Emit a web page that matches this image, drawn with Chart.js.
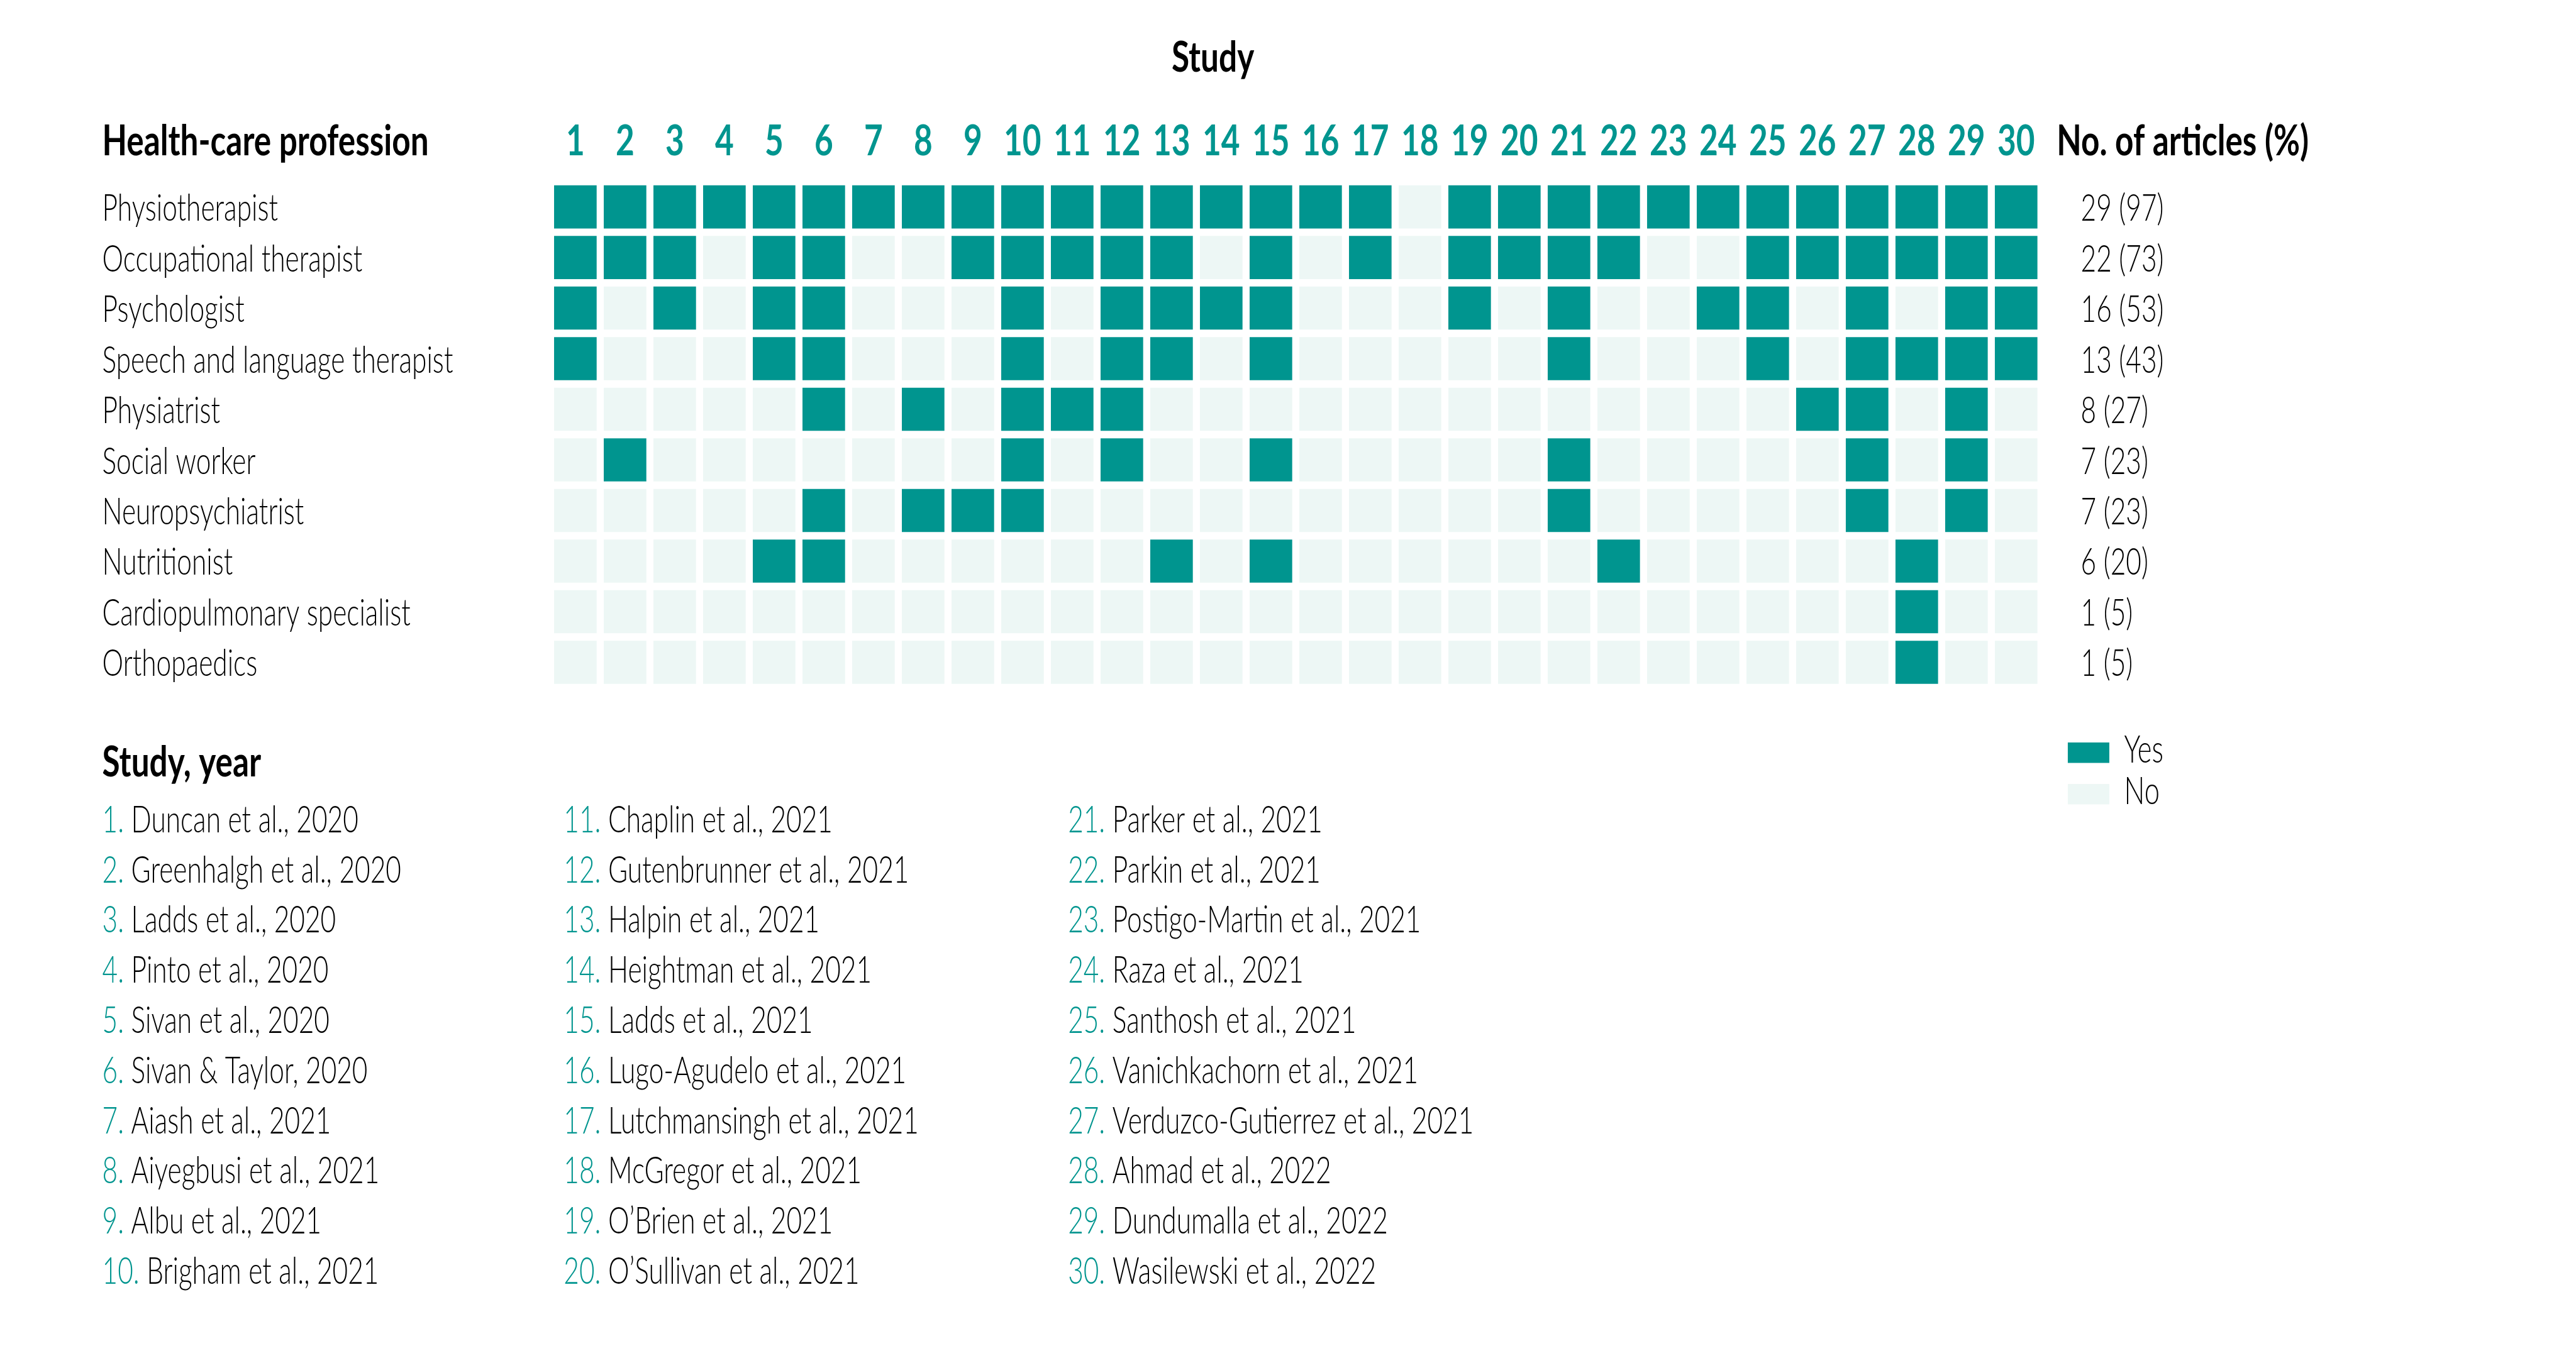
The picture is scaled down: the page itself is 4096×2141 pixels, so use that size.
<!DOCTYPE html>
<html>
<head>
<meta charset="utf-8">
<title>Health-care professions reported per study</title>
<script src="https://cdn.jsdelivr.net/npm/chart.js@4.4.1/dist/chart.umd.min.js"></script>
<style>
  html, body { margin: 0; padding: 0; background: #ffffff; }
  canvas { display: block; }
</style>
</head>
<body>
<canvas id="myChart" width="4096" height="2141"></canvas>
<script>
'use strict';

const studies = ['1', '2', '3', '4', '5', '6', '7', '8', '9', '10',
  '11', '12', '13', '14', '15', '16', '17', '18', '19', '20',
  '21', '22', '23', '24', '25', '26', '27', '28', '29', '30'];

const professions = ['Physiotherapist', 'Occupational therapist', 'Psychologist',
  'Speech and language therapist', 'Physiatrist', 'Social worker', 'Neuropsychiatrist',
  'Nutritionist', 'Cardiopulmonary specialist', 'Orthopaedics'];

const articleCounts = ['29 (97)', '22 (73)', '16 (53)', '13 (43)', '8 (27)',
  '7 (23)', '7 (23)', '6 (20)', '1 (5)', '1 (5)'];

// study numbers that include each profession
const physiotherapist = [1, 2, 3, 4, 5, 6, 7, 8, 9, 10, 11, 12, 13, 14, 15, 16, 17,
  19, 20, 21, 22, 23, 24, 25, 26, 27, 28, 29, 30];
const occupationalTherapist = [1, 2, 3, 5, 6, 9, 10, 11, 12, 13, 15, 17, 19, 20, 21, 22,
  25, 26, 27, 28, 29, 30];
const psychologist = [1, 3, 5, 6, 10, 12, 13, 14, 15, 19, 21, 24, 25, 27, 29, 30];
const speechTherapist = [1, 5, 6, 10, 12, 13, 15, 21, 25, 27, 28, 29, 30];
const physiatrist = [6, 8, 10, 11, 12, 26, 27, 29];
const socialWorker = [2, 10, 12, 15, 21, 27, 29];
const neuropsychiatrist = [6, 8, 9, 10, 21, 27, 29];
const nutritionist = [5, 6, 13, 15, 22, 28];
const cardiopulmonary = [28];
const orthopaedics = [28];

const yesByProfession = [physiotherapist, occupationalTherapist, psychologist, speechTherapist,
  physiatrist, socialWorker, neuropsychiatrist, nutritionist, cardiopulmonary, orthopaedics];

const studyNames = ['Duncan et al., 2020', 'Greenhalgh et al., 2020', 'Ladds et al., 2020',
  'Pinto et al., 2020', 'Sivan et al., 2020', 'Sivan & Taylor, 2020', 'Aiash et al., 2021',
  'Aiyegbusi et al., 2021', 'Albu et al., 2021', 'Brigham et al., 2021',
  'Chaplin et al., 2021', 'Gutenbrunner et al., 2021', 'Halpin et al., 2021',
  'Heightman et al., 2021', 'Ladds et al., 2021', 'Lugo-Agudelo et al., 2021',
  'Lutchmansingh et al., 2021', 'McGregor et al., 2021', 'O\u2019Brien et al., 2021',
  'O\u2019Sullivan et al., 2021', 'Parker et al., 2021', 'Parkin et al., 2021',
  'Postigo-Martin et al., 2021', 'Raza et al., 2021', 'Santhosh et al., 2021',
  'Vanichkachorn et al., 2021', 'Verduzco-Gutierrez et al., 2021', 'Ahmad et al., 2022',
  'Dundumalla et al., 2022', 'Wasilewski et al., 2022'];

const TEAL = '#00958f';
const PALE = '#edf7f5';
const S = 0.985;          // reference -> window scale
const CELL_PAD = 0.074;   // gap between rows, in row units

const REG = '300 59.5px Lato';
const BOLD = 'bold 66px Lato';

// one floating bar per cell, split into the two answer groups
const yesCells = [];
const noCells = [];
professions.forEach(function (p, row) {
    studies.forEach(function (s) {
        const cell = {x: s, y: [row + CELL_PAD, row + 1 - CELL_PAD]};
        if (yesByProfession[row].indexOf(Number(s)) >= 0) {
            yesCells.push(cell);
        } else {
            noCells.push(cell);
        }
    });
});

// the source uses a condensed face, so text is squeezed horizontally
function squeeze(c, font, sample, width) {
    c.font = font;
    return width / c.measureText(sample).width;
}

function put(c, str, px, py, font, color, sx, align) {
    c.save();
    c.font = font;
    c.fillStyle = color;
    c.textAlign = align || 'left';
    c.textBaseline = 'alphabetic';
    c.translate(px, py);
    c.scale(sx, 1);
    c.fillText(str, 0, 0);
    c.restore();
}

const textLayer = {
    id: 'textLayer',
    afterDraw: function (chart) {
        const c = chart.ctx;
        const xs = chart.scales.x;
        const ys = chart.scales.y;
        const sxR = squeeze(c, REG, 'Occupational therapist', 420 * S);
        const sxB = squeeze(c, BOLD, 'No. of articles (%)', 407 * S);

        put(c, 'Study', 1958 * S, 116 * S, BOLD, '#000', sxB, 'center');
        put(c, 'Health-care profession', 165 * S, 250.7 * S, BOLD, '#000', sxB);
        put(c, 'No. of articles (%)', 3320 * S, 250.7 * S, BOLD, '#000', sxB);

        studies.forEach(function (s, i) {
            put(c, s, xs.getPixelForValue(i), 250.7 * S, BOLD, TEAL, sxB, 'center');
        });

        professions.forEach(function (p, row) {
            const yc = ys.getPixelForValue(row + 0.5) + 22;
            put(c, p, 165 * S, yc, REG, '#000', sxR);
            put(c, articleCounts[row], 3359 * S, yc, REG, '#000', sxR);
        });

        // legend
        const sets = chart.data.datasets;
        [1199, 1266].forEach(function (top, i) {
            c.fillStyle = sets[i].backgroundColor;
            c.fillRect(3338 * S, top * S, 67 * S, 33 * S);
            put(c, sets[i].label, 3429 * S, (top + 32.5) * S, '300 61px Lato', '#000', sxR);
        });

        // study key, three columns of ten
        put(c, 'Study, year', 165 * S, 1254 * S, BOLD, '#000', sxB);
        const colX = [165, 910, 1724];
        studyNames.forEach(function (name, i) {
            const px = colX[Math.floor(i / 10)] * S;
            const py = (1344 + (i % 10) * 81) * S;
            const num = studies[i] + '.';
            put(c, num, px, py, REG, TEAL, sxR);
            c.font = REG;
            const off = c.measureText(num + ' ').width * sxR;
            put(c, name, px + off, py, REG, '#000', sxR);
        });
    }
};

const ctx = document.getElementById('myChart');

new Chart(ctx, {
    type: 'bar',
    data: {
        labels: studies,
        datasets: [{
            label: 'Yes',
            data: yesCells,
            backgroundColor: TEAL,
            borderWidth: 0,
            grouped: false,
            barPercentage: 0.857,
            categoryPercentage: 1
        }, {
            label: 'No',
            data: noCells,
            backgroundColor: PALE,
            borderWidth: 0,
            grouped: false,
            barPercentage: 0.857,
            categoryPercentage: 1
        }]
    },
    options: {
        responsive: false,
        animation: false,
        devicePixelRatio: 1,
        layout: {
            padding: {left: 888.7 * S, right: 4096 - 3294.7 * S, top: 293.3 * S, bottom: 2141 - 1110.3 * S}
        },
        scales: {
            x: {display: false, offset: true},
            y: {display: false, min: 0, max: 10, reverse: true}
        },
        plugins: {
            legend: {display: false},
            tooltip: {enabled: false}
        }
    },
    plugins: [textLayer]
});
</script>
</body>
</html>
